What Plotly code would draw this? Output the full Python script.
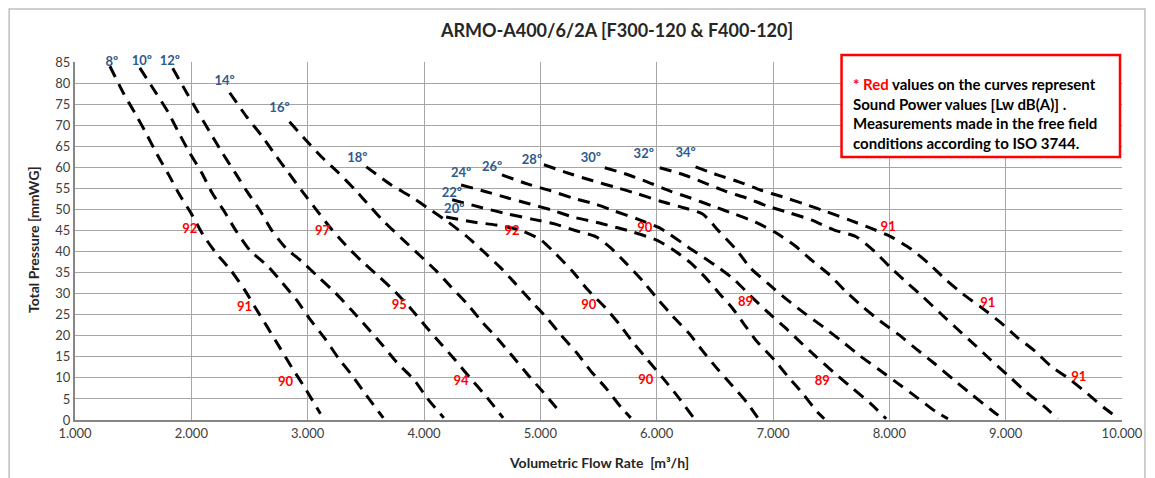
import plotly.graph_objects as go

# ---- data (flow rate m3/h, total pressure mmWG) ----
angles = ["8º", "10º", "12º", "14º", "16º", "18º", "20º", "22º", "24º", "26º", "28º", "30º", "32º", "34º"]

q08 = [1300, 1420, 1515, 1609, 1703, 1806, 1900, 2000, 2100, 2216, 2338, 2458, 2552, 2655, 2758, 2861, 2972, 3110]
p08 = [84, 77.4, 72.9, 68.2, 63.2, 58.2, 53.4, 49, 44, 39.5, 35.6, 30.9, 26.6, 22, 17.3, 12.6, 7.8, 1.5]
q10 = [1557, 1695, 1798, 1892, 1986, 2089, 2183, 2286, 2389, 2509, 2655, 2784, 2904, 3024, 3144, 3264, 3384, 3504, 3650]
p10 = [83.6, 77.7, 73.2, 68.2, 63.4, 58.7, 53.7, 49.4, 44.7, 40.1, 36.6, 32.5, 28.5, 23.75, 19.5, 14.7, 10.5, 5.9, 0.5]
q12 = [1840, 1960, 2055, 2158, 2260, 2372, 2475, 2587, 2690, 2810, 2955, 3101, 3238, 3376, 3513, 3642, 3762, 3916, 4027, 4170]
p12 = [83.5, 77.7, 73.2, 68.4, 63.7, 58.9, 54.4, 49.9, 45.1, 40.9, 37.5, 33.7, 30.2, 26.1, 21.9, 17.8, 13.8, 9.5, 5.2, 0.5]
q14 = [2330, 2475, 2604, 2715, 2835, 2955, 3075, 3196, 3324, 3461, 3607, 3753, 3882, 4019, 4139, 4268, 4396, 4525, 4680]
p14 = [77.7, 72, 67.5, 63.2, 58.7, 54.2, 49.9, 45.6, 41.6, 37.8, 34.2, 30.4, 26.6, 22.1, 18.3, 14.25, 10, 5.9, 0.5]
q16 = [2844, 2990, 3118, 3264, 3410, 3539, 3667, 3805, 3967, 4105, 4233, 4370, 4499, 4636, 4765, 4894, 5022, 5180]
p16 = [70.8, 66.3, 62.5, 58.7, 54.6, 50.6, 46.8, 43.2, 39, 35.4, 31.6, 27.6, 23.3, 19.2, 15, 10.7, 6.7, 1.5]
q18 = [3504, 3719, 3890, 4045, 4208, 4362, 4508, 4653, 4782, 4919, 5057, 5177, 5314, 5434, 5563, 5691, 5777]
p18 = [60.1, 55.8, 53, 50.1, 47, 43.7, 40.1, 36.3, 32.5, 28.3, 24.2, 20.2, 15.9, 11.6, 7.6, 3.1, 0.5]
q20 = [4190, 4422, 4619, 4825, 5005, 5134, 5280, 5408, 5554, 5683, 5794, 5923, 6052, 6172, 6318]
p20 = [48.2, 47, 46.3, 45.1, 42.75, 39.4, 35.2, 30.9, 26.8, 22.6, 18.5, 14.25, 10, 5.9, 0.5]
q22 = [4242, 4500, 4722, 4928, 5130, 5300, 5480, 5600, 5734, 5880, 6009, 6137, 6283, 6395, 6523, 6652, 6780, 6875]
p22 = [52.3, 50.4, 48.9, 47.7, 46.5, 45.0, 43.5, 41.0, 37.3, 33.0, 28.7, 24.7, 20.4, 16.4, 12.1, 8.1, 4.0, 0.3]
q24 = [4319, 4533, 4722, 4911, 5091, 5280, 5530, 5800, 6009, 6154, 6292, 6420, 6540, 6650, 6755, 6866, 7012, 7132, 7252, 7381, 7440]
p24 = [55.8, 54.2, 52.7, 51.3, 49.9, 48.2, 46.6, 44.6, 42.6, 40.2, 37.3, 33.8, 30.0, 26.6, 22.6, 18.5, 14.25, 10.2, 6.4, 1.9, 0.3]
q26 = [4670, 4894, 5091, 5280, 5468, 5640, 5837, 6026, 6300, 6500, 6660, 6806, 6943, 7098, 7235, 7372, 7518, 7672, 7835, 7973]
p26 = [58.2, 56, 54.4, 52.7, 51.3, 49.6, 47.7, 45.6, 40.5, 36.8, 33.5, 29.5, 25.9, 22.1, 18.5, 15, 11.4, 7.8, 4, 0.3]
q28 = [5031, 5263, 5451, 5640, 5837, 6026, 6206, 6395, 6532, 6686, 6806, 6961, 7115, 7278, 7432, 7587, 7750, 7904, 8058, 8230, 8393, 8504]
p28 = [60.6, 58.4, 56.8, 55.3, 53.7, 52, 50.6, 48.9, 44.9, 40.4, 36.1, 32.3, 28.7, 25.2, 22.1, 18.8, 15.2, 12.1, 9, 5.5, 2.1, 0.3]
q30 = [5554, 5734, 5923, 6112, 6292, 6480, 6669, 6849, 7029, 7192, 7329, 7484, 7630, 7775, 7921, 8084, 8230, 8393, 8547, 8702, 8865, 8976]
p30 = [59.9, 58.4, 56.5, 54.4, 52.7, 50.8, 48.9, 47, 44.4, 41.3, 38, 34.5, 30.4, 26.8, 23.5, 20.2, 16.9, 13.3, 9.7, 6.2, 2.6, 0.3]
q32 = [6026, 6214, 6395, 6583, 6772, 6952, 7141, 7329, 7527, 7715, 7870, 8007, 8144, 8290, 8436, 8573, 8736, 8873, 9036, 9173, 9336, 9448]
p32 = [59.9, 58.4, 56.5, 54.4, 52.7, 50.8, 49.2, 47.5, 45.1, 43.5, 40.1, 36.3, 32.8, 29.2, 25.4, 21.9, 17.8, 14.25, 10.2, 6.7, 3.1, 0.3]
q34 = [6334, 6523, 6712, 6892, 7081, 7269, 7467, 7655, 7835, 8015, 8187, 8341, 8479, 8633, 8787, 8950, 9096, 9250, 9388, 9550, 9705, 9860, 9930]
p34 = [60.1, 58.2, 56.5, 54.6, 53, 51.3, 49.4, 47.5, 45.6, 43.5, 40.6, 37.1, 33.5, 29.9, 26.8, 23.3, 19.7, 16.4, 12.8, 9.7, 6.2, 2.6, 1.2]

curves_q = [q08, q10, q12, q14, q16, q18, q20, q22, q24, q26, q28, q30, q32, q34]
curves_p = [p08, p10, p12, p14, p16, p18, p20, p22, p24, p26, p28, p30, p32, p34]

# angle label positions
angle_q = [1317, 1575, 1815, 2286, 2758, 3427, 4260, 4240, 4319, 4585, 4928, 5434, 5889, 6249]
angle_p = [84.8, 84.95, 84.95, 80.3, 73.9, 62.0, 49.9, 53.7, 58.5, 59.9, 61.5, 62.0, 62.9, 63.2]

# sound power labels (red)
sound_text = ["92", "91", "90", "97", "95", "94", "92", "90", "90", "90", "89", "89", "91", "91", "91"]
sound_q = [1986, 2458, 2810, 3127, 3787, 4319, 4756, 5417, 5906, 5897, 6763, 7424, 7990, 8847, 9628]
sound_p = [45.1, 26.6, 8.8, 44.65, 27.1, 9.0, 44.65, 27.1, 9.3, 45.4, 27.8, 9.0, 45.6, 27.55, 10.0]

x_tickvals = [1000, 2000, 3000, 4000, 5000, 6000, 7000, 8000, 9000, 10000]
x_ticktext = ["1.000", "2.000", "3.000", "4.000", "5.000", "6.000", "7.000", "8.000", "9.000", "10.000"]
y_tickvals = list(range(0, 90, 5))

FONT = "Lato, 'Open Sans', sans-serif"
BLUE = "#2E5A8C"

# page body has an 8px margin: canvas is placed at (8, 8)
OFF = 8
PL, PR, PT, PB = 75, 1124, 62, 420  # plot area in page pixels


def px(x):
    return (x - PL) / (PR - PL)


def py(y):
    return (PB - y) / (PB - PT)


fig = go.Figure()
for name, qs, ps in zip(angles, curves_q, curves_p):
    fig.add_trace(go.Scatter(
        x=qs, y=ps, mode="lines", name=name, showlegend=False,
        line=dict(color="black", width=3, dash="12px,8px", shape="spline", smoothing=0.6),
        hoverinfo="skip"))

fig.add_trace(go.Scatter(
    x=angle_q, y=angle_p, mode="text", text=angles, showlegend=False, cliponaxis=False,
    textfont=dict(family=FONT, size=13, color=BLUE, weight="bold"), hoverinfo="skip"))

fig.add_trace(go.Scatter(
    x=sound_q, y=sound_p, mode="text", text=sound_text, showlegend=False, cliponaxis=False,
    textfont=dict(family=FONT, size=13, color="#FF0000", weight="bold"), hoverinfo="skip"))

fig.update_layout(
    width=1155 - OFF, height=478 - OFF,
    margin=dict(l=PL - OFF, r=1155 - PR, t=PT - OFF, b=478 - PB),
    paper_bgcolor="white", plot_bgcolor="white",
    font=dict(family=FONT, size=13, color="#404040"),
    title=dict(text="<b>ARMO-A400/6/2A [F300-120 & F400-120]</b>",
               x=(617 - OFF) / (1155 - OFF), xanchor="center",
               y=1 - (31 - OFF) / (478 - OFF), yanchor="middle",
               font=dict(family=FONT, size=18, color="#262626")),
    xaxis=dict(range=[1000, 10000], tickvals=x_tickvals, ticktext=x_ticktext,
               showgrid=True, gridcolor="#A6A6A6", gridwidth=1,
               showline=True, linecolor="#868686", linewidth=2,
               zeroline=False, ticks="", tickfont=dict(size=13, color="#404040")),
    yaxis=dict(range=[0, 85], tickvals=y_tickvals,
               showgrid=True, gridcolor="#A6A6A6", gridwidth=1,
               showline=True, linecolor="#868686", linewidth=2,
               zeroline=False, ticks="", tickfont=dict(size=13, color="#404040")),
)

# axis titles
fig.add_annotation(text="<b>Volumetric Flow Rate  [m³/h]</b>", xref="paper", yref="paper",
                   x=px(600), y=py(462), xanchor="center", yanchor="middle", showarrow=False,
                   font=dict(family=FONT, size=14, color="#262626"))
fig.add_annotation(text="<b>Total Pressure [mmWG]</b>", xref="paper", yref="paper",
                   x=px(33), y=py(240), xanchor="center", yanchor="middle", textangle=-90,
                   showarrow=False, font=dict(family=FONT, size=14, color="#262626"))

# note box
fig.add_shape(type="rect", xref="paper", yref="paper",
              x0=px(843), x1=px(1122), y0=py(157), y1=py(55),
              line=dict(color="#FF0000", width=2.5), fillcolor="white", layer="above")
fig.add_annotation(
    text=("<b><span style='color:#FF0000'>* Red</span> values on the curves represent<br>"
          "Sound Power values [Lw dB(A)] .<br>"
          "Measurements made in the free field<br>"
          "conditions according to ISO 3744.</b>"),
    xref="paper", yref="paper", x=px(852), y=py(114),
    xanchor="left", yanchor="middle", align="left", showarrow=False,
    font=dict(family=FONT, size=15, color="black"))

# outer chart border
fig.add_shape(type="rect", xref="paper", yref="paper",
              x0=px(9), x1=px(1147), y0=py(495), y1=py(9),
              line=dict(color="#BFBFBF", width=1.5), layer="below")

fig.write_html("out.html")
